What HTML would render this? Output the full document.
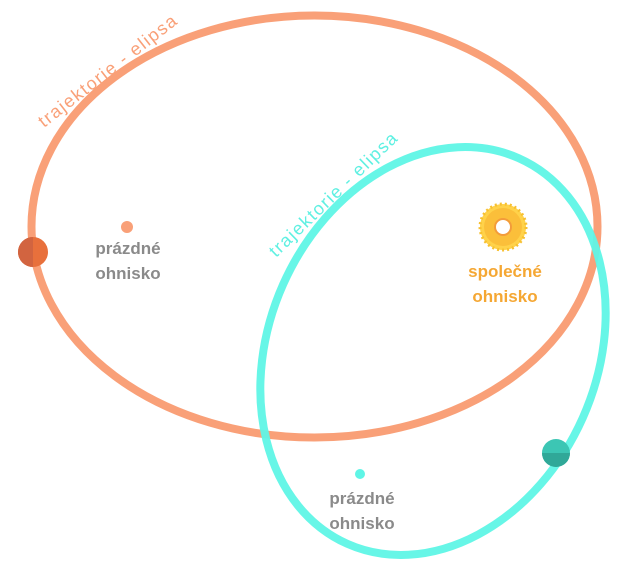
<!DOCTYPE html>
<html><head><meta charset="utf-8"><style>
html,body{margin:0;padding:0;background:#fff;overflow:hidden;width:640px;height:566px;}
#wrap{width:640px;height:566px;overflow:hidden;position:relative;}
svg{display:block;font-family:"Liberation Sans",sans-serif;}
</style></head><body>
<div id="wrap">
<svg width="640" height="566" viewBox="0 0 640 566" overflow="hidden">
  <ellipse cx="314.5" cy="226.5" rx="283" ry="211" fill="none" stroke="#f9a078" stroke-width="8"/>
  <ellipse cx="433" cy="351" rx="164" ry="211" transform="rotate(24 433 351)" fill="none" stroke="#5ff5e6" stroke-width="8" opacity="0.95"/>
  <text x="0" y="0" transform="translate(44 128) rotate(-38)" font-size="18" fill="#f9a078" textLength="170" lengthAdjust="spacing">trajektorie - elipsa</text>
  <text x="0" y="0" transform="translate(276 258) rotate(-44)" font-size="18" fill="#5ff0e2" textLength="170" lengthAdjust="spacing">trajektorie - elipsa</text>
  <g>
    <circle cx="503" cy="227" r="23" fill="#ffd24a" stroke="#f7c030" stroke-width="3" stroke-dasharray="2 3"/>
    <circle cx="503" cy="227" r="19" fill="#fbbf3a"/>
    <circle cx="503" cy="227" r="8" fill="#fff" stroke="#f39c3a" stroke-width="2"/>
  </g>
  <text x="505" y="277" font-size="17" font-weight="bold" fill="#f5a733" text-anchor="middle">společné</text>
  <text x="505" y="302" font-size="17" font-weight="bold" fill="#f5a733" text-anchor="middle">ohnisko</text>
  <circle cx="127" cy="227" r="6" fill="#f9a078"/>
  <text x="128" y="254" font-size="17" font-weight="bold" fill="#8a8a8a" text-anchor="middle">prázdné</text>
  <text x="128" y="279" font-size="17" font-weight="bold" fill="#8a8a8a" text-anchor="middle">ohnisko</text>
  <circle cx="360" cy="474" r="5" fill="#5ff5e6"/>
  <text x="362" y="504" font-size="17" font-weight="bold" fill="#8a8a8a" text-anchor="middle">prázdné</text>
  <text x="362" y="529" font-size="17" font-weight="bold" fill="#8a8a8a" text-anchor="middle">ohnisko</text>
  <circle cx="33" cy="252" r="15" fill="#e8703c"/>
  <path d="M33 237 A15 15 0 0 0 33 267 Z" fill="#d26440"/>
  <circle cx="556" cy="453" r="14" fill="#3cc6b4"/>
  <path d="M542 453 A14 14 0 0 0 570 453 Z" fill="#30a898"/>
</svg>
</div>
</body></html>
